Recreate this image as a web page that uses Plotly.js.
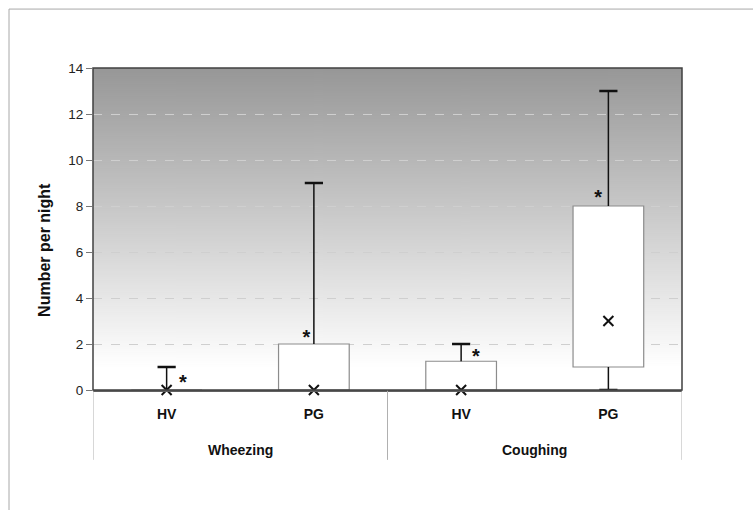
<!DOCTYPE html>
<html>
<head>
<meta charset="utf-8">
<script src="https://cdn.plot.ly/plotly-3.0.1.min.js"></script>
<style>html,body{margin:0;padding:0;background:#fff;}#chart{width:753px;height:510px;}</style>
</head>
<body>
<div id="chart"></div>
<script>
// ---- data ----
const groups = ["Wheezing", "Wheezing", "Coughing", "Coughing"];
const subjects = ["HV", "PG", "HV", "PG"];
const q1 = [0, 0, 0, 1];
const q3 = [0, 2, 1.25, 8];
const median = [0, 0, 0, 3];
const lowerWhisker = [0, 0, 0, 0];
const upperWhisker = [1, 9, 2, 13];
const sigMark = ["*", "*", "*", "*"];
const sigX = [0.11, 0.95, 2.1, 2.93];
const sigY = [0.25, 2.2, 1.4, 8.3];
const groupNames = ["Wheezing", "Coughing"];
const groupCenters = [0.5, 2.5];
const yTicks = [0, 2, 4, 6, 8, 10, 12, 14];

const xi = subjects.map((_, i) => i);

// gradient background image
const cv = document.createElement("canvas");
cv.width = 4; cv.height = 322;
const ctx = cv.getContext("2d");
const g = ctx.createLinearGradient(0, 0, 0, 322);
g.addColorStop(0, "#979797");
g.addColorStop(0.93, "#ffffff");
g.addColorStop(1, "#ffffff");
ctx.fillStyle = g; ctx.fillRect(0, 0, 4, 322);
const bgURL = cv.toDataURL("image/png");

const hasLower = q1.map((v, i) => v > lowerWhisker[i]);

const traces = [
  // upper whiskers
  {
    type: "scatter", mode: "markers", x: xi, y: q3,
    marker: {size: 0.1, color: "rgba(0,0,0,0)"},
    error_y: {type: "data", symmetric: false,
      array: upperWhisker.map((u, i) => u - q3[i]),
      arrayminus: q3.map(() => 0),
      color: "#111", thickness: 1.5, width: 0},
    hoverinfo: "skip", showlegend: false
  },
  // lower whiskers (only where lower whisker is below the box)
  {
    type: "scatter", mode: "markers", x: xi,
    y: q1.map((v, i) => (hasLower[i] ? v : null)),
    marker: {size: 0.1, color: "rgba(0,0,0,0)"},
    error_y: {type: "data", symmetric: false,
      array: q1.map(() => 0),
      arrayminus: q1.map((v, i) => v - lowerWhisker[i]),
      color: "#111", thickness: 1.5, width: 0},
    hoverinfo: "skip", showlegend: false
  },
  // boxes
  {
    type: "bar", x: xi, base: q1, y: q3.map((v, i) => v - q1[i]),
    width: 0.48,
    marker: {color: "#ffffff", line: {color: "#8c8c8c", width: 1.2}},
    hoverinfo: "skip", showlegend: false
  },
  // whisker caps
  {
    type: "scatter", mode: "markers",
    x: xi.concat(xi),
    y: upperWhisker.concat(lowerWhisker.map((v, i) => (hasLower[i] ? v : null))),
    marker: {symbol: "line-ew", size: 13, line: {color: "#111", width: 2.5}},
    cliponaxis: false, hoverinfo: "skip", showlegend: false
  },
  // medians
  {
    type: "scatter", mode: "markers", x: xi, y: median,
    marker: {symbol: "x-thin", size: 10, line: {color: "#111", width: 2}},
    cliponaxis: false, hoverinfo: "skip", showlegend: false
  },
  // significance marks
  {
    type: "scatter", mode: "text", x: sigX, y: sigY, text: sigMark,
    textposition: "middle center",
    textfont: {family: "Arial", size: 20, color: "#111", weight: "bold"},
    cliponaxis: false, hoverinfo: "skip", showlegend: false
  }
];

const shapes = [];
[-0.5, 1.5, 3.5].forEach(v => shapes.push({
  type: "line", xref: "x", yref: "paper", x0: v, x1: v, y0: 0, y1: -0.217,
  line: {color: "#b0b0b0", width: 1}
}));
// outer frame (top and left)
shapes.push({type: "line", xref: "paper", yref: "paper", x0: -0.1426, x1: 1.13, y0: 1.183, y1: 1.183, line: {color: "#a8a8a8", width: 1}});
shapes.push({type: "line", xref: "paper", yref: "paper", x0: -0.1426, x1: -0.1426, y0: 1.183, y1: -0.4, line: {color: "#a8a8a8", width: 1}});
shapes.push({type: "rect", xref: "paper", yref: "paper", x0: 0, x1: 1, y0: 0, y1: 1,
  line: {color: "#404040", width: 1.5}, layer: "above"});

const annotations = groupNames.map((n, i) => ({
  text: n, x: groupCenters[i], xref: "x", y: -0.186, yref: "paper", yanchor: "middle",
  showarrow: false, font: {family: "Arial", size: 14, color: "#111", weight: "bold"}
}));
annotations.push({
  text: "Number per night", textangle: -90, x: -0.0815, xref: "paper", xanchor: "center",
  y: 0.435, yref: "paper", yanchor: "middle", showarrow: false,
  font: {family: "Arial", size: 16, color: "#111", weight: "bold"}
});

const layout = {
  width: 753, height: 510,
  margin: {l: 93, r: 71, t: 68, b: 120},
  paper_bgcolor: "#ffffff", plot_bgcolor: "rgba(0,0,0,0)",
  barmode: "overlay",
  images: [{source: bgURL, xref: "paper", yref: "paper", x: 0, y: 1, sizex: 1, sizey: 1,
    sizing: "stretch", xanchor: "left", yanchor: "top", layer: "below"}],
  xaxis: {
    range: [-0.5, 3.5], tickvals: xi, ticktext: subjects,
    ticks: "", showgrid: false, zeroline: false,
    showline: true, linecolor: "#606060", linewidth: 2, mirror: false,
    tickfont: {family: "Arial", size: 14, color: "#111", weight: "bold"},
    ticklabelstandoff: 10
  },
  yaxis: {
    range: [0, 14], tickvals: yTicks, ticks: "outside", ticklen: 6, tickcolor: "#777",
    showgrid: true, gridcolor: "#cfcfcf", griddash: "dash", gridwidth: 1,
    zeroline: false, showline: false,
    tickfont: {family: "Arial", size: 13.5, color: "#222"}
  },
  shapes: shapes,
  annotations: annotations,
  showlegend: false
};

Plotly.newPlot("chart", traces, layout, {displayModeBar: false, staticPlot: true});
</script>
</body>
</html>
